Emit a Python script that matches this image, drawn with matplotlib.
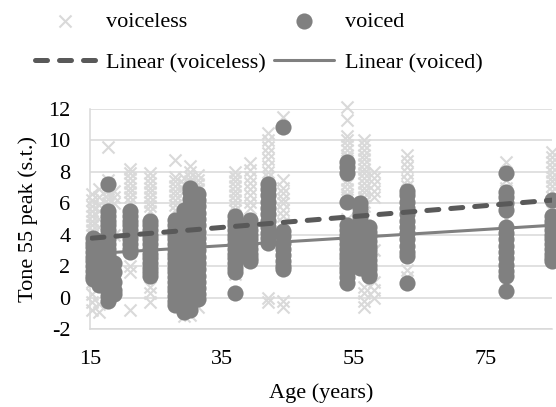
import numpy as np
import matplotlib
matplotlib.use("Agg")
import matplotlib.pyplot as plt

plt.rcParams['font.family'] = ['Liberation Serif', 'DejaVu Serif']
plt.rcParams['font.size'] = 16
plt.rcParams['axes.unicode_minus'] = False

# ages of the speakers (x) and the tone 55 peak readings (y) for each age
voiceless_ages = [15.3, 16.4, 17.8, 18.6, 21.0, 24.1, 27.9, 29.2, 30.2, 31.4,
                  37.0, 39.2, 42.0, 44.2, 54.0, 56.5, 58.0, 63.0, 78.1, 85.0]
voiceless_tones = [
    [6.6, 6.2, 5.8, 5.5, 5.2, 4.9, 4.6, 4.3, 4.0, 3.0, 2.0, 1.0, 0.2, -0.3, -0.8],
    [6.9, 6.4, 5.9, 5.5, 5.0, 4.5, 3.5, 2.5, 1.5, -0.4, -0.9],
    [9.6, 7.5, 7.2, 6.9, 6.6, 6.3, 6.0, 5.0, 4.0, 3.0, 2.0, 1.0],
    [6.8, 6.4, 6.0, 4.0, 2.0],
    [8.2, 7.9, 7.6, 7.3, 7.0, 6.7, 6.4, 6.1, 5.0, 4.0, 3.0, 2.0, 1.6, -0.8],
    [7.9, 7.6, 7.3, 7.0, 6.7, 6.4, 6.1, 5.8, 5.5, 4.5, 3.5, 2.5, 1.5, 0.65, 0.3, -0.3],
    [8.75, 7.7, 7.4, 7.1, 6.8, 6.5, 6.2, 5.9, 5.6, 4.5, 3.5, 2.5],
    [7.6, 7.2, 6.8, 5.0, 3.0, 1.0, -1.2],
    [8.4, 8.0, 7.7, 7.4, 7.1, 6.0, 5.0, 4.0, 3.0, 2.0, 1.0, -1.1],
    [7.8, 7.5, 7.2, 6.9, 5.5, 4.5, 3.5, 2.5, -0.6],
    [8.0, 7.7, 7.4, 7.1, 6.8, 6.5, 6.2, 5.9, 5.6, 4.5, 3.5, 2.5, 1.5],
    [8.55, 8.1, 7.7, 7.3, 6.9, 6.5, 6.1, 5.7, 4.5, 3.5, 2.4],
    [10.5, 10.0, 9.6, 9.2, 8.8, 8.4, 8.0, 7.7, 6.0, 5.0, 4.0, 0.0, -0.3],
    [11.5, 7.5, 7.0, 6.65, 6.3, 6.0, 5.6, 5.2, 4.75, 3.5, 2.5, -0.2, -0.6],
    [12.1, 11.3, 10.3, 10.0, 9.7, 9.4, 9.1, 8.9, 7.5, 7.2, 6.9, 6.6, 6.4, 5.0, 4.0, 3.0, 2.0],
    [10.0, 9.7, 9.4, 9.1, 8.8, 8.5, 8.2, 7.9, 7.6, 7.3, 7.0, 6.7, 6.4, 6.1, 5.8, 0.7, 0.3, -0.2, -0.6],
    [8.0, 7.6, 7.2, 6.8, 6.4, 3.0, 1.0, 0.5, 0.0],
    [9.05, 8.7, 8.3, 7.9, 7.5, 7.1, 6.0, 5.0, 4.0, 3.0, 1.75, 1.3],
    [8.6, 7.5, 7.0, 6.0, 5.0, 4.0, 3.0],
    [9.25, 8.95, 8.6, 8.3, 8.0, 7.7, 7.4, 7.1, 6.8, 6.4, 5.5, 4.5],
]

voiced_ages = [15.5, 16.3, 17.8, 18.6, 21.0, 24.1, 27.9, 29.2, 30.2, 31.4,
               37.0, 39.2, 42.0, 44.2, 54.0, 55.9, 57.3, 63.0, 78.1, 85.0]
voiced_tones = [
    [3.8, 3.5, 3.2, 2.9, 2.6, 2.3, 2.0, 1.7, 1.4, 1.2],
    [3.6, 3.3, 3.0, 2.7, 2.4, 2.1, 1.8, 1.5, 1.1, 0.8],
    [7.2, 5.5, 5.2, 4.9, 4.6, 4.3, 4.0, 3.7, 3.4, 3.1, 2.8, 2.5, 2.2, 1.9, 1.6, 1.3, 1.0, 0.7, 0.4, 0.1, -0.2],
    [2.2, 1.6, 1.0, 0.5, 0.2],
    [5.5, 5.2, 4.9, 4.6, 4.3, 4.0, 3.7, 3.4, 3.1, 2.9],
    [4.9, 4.6, 4.3, 4.0, 3.7, 3.4, 3.1, 2.8, 2.5, 2.2, 1.9, 1.6, 1.4],
    [4.95, 4.6, 4.3, 4.0, 3.7, 3.4, 3.1, 2.8, 2.5, 2.2, 1.9, 1.6, 1.3, 1.0, 0.7, 0.4, 0.1, -0.2, -0.45],
    [5.6, 5.2, 4.8, 4.4, 4.0, 3.6, 3.2, 2.8, 2.4, 2.0, 1.6, 1.2, 0.8, 0.4, 0.0, -0.4, -0.9],
    [7.0, 6.7, 6.3, 5.9, 5.5, 5.1, 4.7, 4.3, 3.9, 3.5, 3.1, 2.7, 2.3, 1.9, 1.5, 1.1, 0.7, 0.3, -0.1, -0.5, -0.8],
    [6.6, 6.2, 5.8, 5.4, 5.0, 4.6, 4.2, 3.8, 3.4, 3.0, 2.6, 2.2, 1.8, 1.4, 1.0, 0.6, 0.2, -0.1],
    [5.2, 4.9, 4.6, 4.3, 4.0, 3.7, 3.4, 3.1, 2.8, 2.5, 2.2, 1.9, 1.6, 0.3],
    [4.95, 4.6, 4.3, 4.0, 3.7, 3.4, 3.1, 2.8, 2.5, 2.35],
    [7.2, 6.9, 6.5, 6.1, 5.7, 5.3, 4.9, 4.5, 4.1, 3.8, 3.5],
    [10.85, 4.25, 3.9, 3.5, 3.1, 2.7, 2.3, 2.0, 1.8],
    [8.6, 8.3, 7.95, 6.1, 4.65, 4.3, 4.0, 3.7, 3.4, 3.1, 2.8, 2.5, 2.2, 1.9, 1.6, 1.3, 0.95],
    [6.0, 5.7, 5.4, 5.1, 4.8, 4.5, 4.2, 3.9, 3.6, 3.3, 3.0, 2.7, 2.4, 2.1, 1.9],
    [4.5, 4.2, 3.9, 3.6, 3.3, 3.0, 2.7, 2.4, 2.1, 1.8, 1.5, 1.35],
    [6.8, 6.5, 6.1, 5.7, 5.3, 4.9, 4.5, 4.1, 3.7, 3.3, 2.9, 2.65, 0.9],
    [7.95, 6.7, 6.4, 6.0, 5.6, 4.5, 4.1, 3.7, 3.3, 2.9, 2.5, 2.1, 1.7, 1.4, 0.45],
    [6.2, 5.2, 4.9, 4.6, 4.3, 4.0, 3.7, 3.4, 3.1, 2.8, 2.5, 2.35],
]

# linear trendlines (slope, intercept)
voiceless_fit = (0.0347, 3.25)
voiced_fit = (0.026, 2.39)

vl_x = [a for a, ts in zip(voiceless_ages, voiceless_tones) for t in ts]
vl_y = [t for ts in voiceless_tones for t in ts]
vd_x = [a for a, ts in zip(voiced_ages, voiced_tones) for t in ts]
vd_y = [t for ts in voiced_tones for t in ts]

fig = plt.figure(figsize=(5.56, 4.07), dpi=100)
ax = fig.add_axes([90 / 556, 1 - 329 / 407, 462 / 556, 220 / 407])

s1 = ax.scatter(vl_x, vl_y, marker='x', s=75, color='#d9d9d9', linewidths=1.5,
                zorder=2, clip_on=False)
s2 = ax.scatter(vd_x, vd_y, marker='o', s=135, color='#808080', linewidths=0,
                zorder=3, clip_on=False)

xs = np.array([min(vl_x), max(vl_x)])
l1, = ax.plot(xs, voiceless_fit[0] * xs + voiceless_fit[1], color='#595959', lw=3.6,
              linestyle=(0, (2.4, 2.4)), dash_capstyle='round', zorder=5)
xs = np.array([min(vd_x), max(vd_x)])
l2, = ax.plot(xs, voiced_fit[0] * xs + voiced_fit[1], color='#808080', lw=2.2,
              solid_capstyle='round', zorder=4)

ax.set_xlim(15, 85)
ax.set_ylim(-2, 12)
ax.set_xticks(np.arange(15, 86, 20))
ax.set_yticks(np.arange(-2, 13, 2))
ax.grid(axis='y', color='#d9d9d9', lw=1.1)
ax.set_axisbelow(True)
ax.tick_params(length=0)
ax.tick_params(axis='y', pad=14)
ax.tick_params(axis='x', pad=15)
for side in ['top', 'right']:
    ax.spines[side].set_visible(False)
for side in ['left', 'bottom']:
    ax.spines[side].set_color('#d9d9d9')
    ax.spines[side].set_linewidth(1.1)

ax.set_xlabel('Age (years)')
ax.set_ylabel('Tone 55 peak (s.t.)')
ax.yaxis.set_label_coords(-0.112, 0.5)
ax.xaxis.set_label_coords(0.5, -0.245)

fig.legend([s1, l1, s2, l2],
           ['voiceless', 'Linear (voiceless)', 'voiced', 'Linear (voiced)'],
           ncol=2, loc='upper left', bbox_to_anchor=(35 / 556, 1 - 11 / 407),
           frameon=False, borderpad=0, handlelength=2.7, handletextpad=0.5,
           columnspacing=0.35, labelspacing=0.95, scatterpoints=1,
           borderaxespad=0)

fig.savefig('out.png', dpi=100)
